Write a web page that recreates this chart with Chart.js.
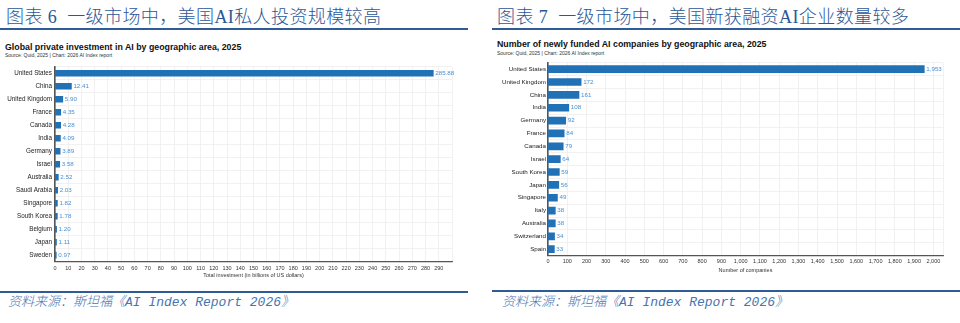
<!DOCTYPE html>
<html>
<head>
<meta charset="utf-8">
<script src="https://cdn.jsdelivr.net/npm/chart.js@4.4.1/dist/chart.umd.min.js"></script>
<style>
  html, body { margin:0; padding:0; background:#fff; }
  body { width:960px; height:323px; position:relative; overflow:hidden; font-family:"Liberation Sans", Arial, sans-serif; }
  .hdr { position:absolute; top:4px; font-family:"Noto Sans CJK SC",serif; font-weight:300; font-size:18px; line-height:22px; letter-spacing:0.4px; color:#2b5797; white-space:nowrap; }
  .hdr .lat { font-family:"Liberation Serif",serif; font-weight:400; }
  .hdr .g1 { margin-left:5px; }
  .hdr .g2 { margin-left:10px; }
  .rule { position:absolute; height:2px; background:#2f5c97; }
  .src { position:absolute; top:295px; font-family:"Liberation Mono","Noto Sans CJK SC",monospace; font-style:italic; font-weight:300; font-size:13px; line-height:16px; color:#4674b0; white-space:nowrap; }
  .ctitle { position:absolute; font-weight:bold; font-size:8.8px; line-height:10px; color:#111; white-space:nowrap; }
  .csub { position:absolute; font-size:5px; line-height:6px; color:#333; white-space:nowrap; }
  canvas { position:absolute; }
</style>
</head>
<body>
<div class="hdr" style="left:6px;">图表<span class="lat g1">6</span><span class="g2">一级市场中，美国<span class="lat">AI</span>私人投资规模较高</span></div>
<div class="hdr" style="left:497px;">图表<span class="lat g1">7</span><span class="g2">一级市场中，美国新获融资<span class="lat">AI</span>企业数量较多</span></div>
<div class="rule" style="left:0; width:468px; top:28px;"></div>
<div class="rule" style="left:492px; width:468px; top:28px;"></div>
<div class="ctitle" style="left:5px; top:42px;">Global private investment in AI by geographic area, 2025</div>
<div class="csub" style="left:5px; top:52px;">Source: Quid, 2025 | Chart: 2026 AI Index report</div>
<div class="ctitle" style="left:497px; top:39px;">Number of newly funded AI companies by geographic area, 2025</div>
<div class="csub" style="left:497px; top:50px;">Source: Quid, 2025 | Chart: 2026 AI Index report</div>
<canvas id="c1" width="468" height="228" style="left:0; top:60px;"></canvas>
<canvas id="c2" width="468" height="231" style="left:492px; top:57px;"></canvas>
<div class="rule" style="left:0; width:468px; top:291px;"></div>
<div class="rule" style="left:492px; width:468px; top:290px;"></div>
<div class="src" style="left:8px;">资料来源：斯坦福《AI Index Report 2026》</div>
<div class="src" style="left:502px;">资料来源：斯坦福《AI Index Report 2026》</div>
<script>
// ---- Data ----
const invCountries = ['United States','China','United Kingdom','France','Canada','India','Germany','Israel','Australia','Saudi Arabia','Singapore','South Korea','Belgium','Japan','Sweden'];
const invValues = [285.88, 12.41, 5.90, 4.35, 4.28, 4.09, 3.89, 3.58, 2.52, 2.03, 1.82, 1.78, 1.20, 1.11, 0.97];
const invTicks = [0,10,20,30,40,50,60,70,80,90,100,110,120,130,140,150,160,170,180,190,200,210,220,230,240,250,260,270,280,290];
const invAxisMax = 300;
const invAxisTitle = 'Total investment (in billions of US dollars)';

const coCountries = ['United States','United Kingdom','China','India','Germany','France','Canada','Israel','South Korea','Japan','Singapore','Italy','Australia','Switzerland','Spain'];
const coValues = [1953, 172, 161, 108, 92, 84, 79, 64, 59, 56, 49, 38, 38, 34, 33];
const coTicks = [0,100,200,300,400,500,600,700,800,900,1000,1100,1200,1300,1400,1500,1600,1700,1800,1900,2000];
const coAxisMax = 2050;
const coAxisTitle = 'Number of companies';

const BAR = '#2071b6';
const LABEL = '#4a8fd2';
const FONT = '"Liberation Sans", Arial, sans-serif';

function valueLabels(fmt, size) {
  return {
    id: 'valueLabels',
    afterDatasetsDraw(chart) {
      const ctx = chart.ctx;
      const meta = chart.getDatasetMeta(0);
      const data = chart.data.datasets[0].data;
      ctx.save();
      ctx.font = size + 'px ' + FONT;
      ctx.fillStyle = LABEL;
      ctx.textAlign = 'left';
      ctx.textBaseline = 'middle';
      meta.data.forEach((bar, i) => {
        ctx.fillText(fmt(data[i]), bar.x + 2, bar.y);
      });
      ctx.restore();
    }
  };
}

function makeChart(id, labels, values, opts) {
  const canvas = document.getElementById(id);
  const H = canvas.height;
  const padBottom = H - opts.plotBottom - opts.xHeight;
  return new Chart(canvas, {
    type: 'bar',
    data: { labels: labels, datasets: [{ data: values, backgroundColor: BAR, borderWidth: 0, barThickness: opts.barThickness }] },
    options: {
      indexAxis: 'y',
      responsive: false,
      animation: false,
      devicePixelRatio: 1,
      layout: { padding: { top: 0, right: opts.padRight, left: 0, bottom: padBottom } },
      plugins: { legend: { display: false }, tooltip: { enabled: false }, title: { display: false } },
      scales: {
        x: {
          type: 'linear', min: 0, max: opts.max,
          grid: { color: '#ededed', lineWidth: 0.8, drawTicks: false },
          border: { display: true, color: '#555', width: 1.2 },
          afterBuildTicks: (s) => {
            s.ticks = opts.ticks.map(v => ({ value: v })).concat([{ value: opts.max }]);
          },
          ticks: {
            autoSkip: false, maxRotation: 0, padding: 3,
            color: '#333', font: { family: FONT, size: 5.5 },
            callback: (v) => opts.ticks.includes(v) ? v.toLocaleString('en-US') : ''
          },
          title: { display: true, text: opts.title, color: '#333', font: { family: FONT, size: 5.5 }, padding: { top: 1, bottom: 0 } },
          afterFit: (s) => { s.height = opts.xHeight; }
        },
        y: {
          grid: { color: '#ededed', lineWidth: 0.8, drawTicks: false },
          border: { display: true, color: '#555', width: 1.6 },
          ticks: { color: '#222', padding: opts.yPad, font: { family: FONT, size: opts.catSize } },
          afterFit: (s) => { s.width = opts.yWidth; }
        }
      }
    },
    plugins: [valueLabels(opts.fmt, 6.2)]
  });
}

makeChart('c1', invCountries, invValues, {
  max: invAxisMax, ticks: invTicks, title: invAxisTitle,
  barThickness: 6, padRight: 16, plotBottom: 201.7, xHeight: 17.5, yWidth: 55,
  catSize: 6.3, yPad: 3,
  fmt: (v) => v.toFixed(2)
});

makeChart('c2', coCountries, coValues, {
  max: coAxisMax, ticks: coTicks, title: coAxisTitle,
  barThickness: 7, padRight: 17, plotBottom: 198.6, xHeight: 18, yWidth: 56,
  catSize: 6.2, yPad: 2,
  fmt: (v) => v.toLocaleString('en-US')
});
</script>
</body>
</html>
